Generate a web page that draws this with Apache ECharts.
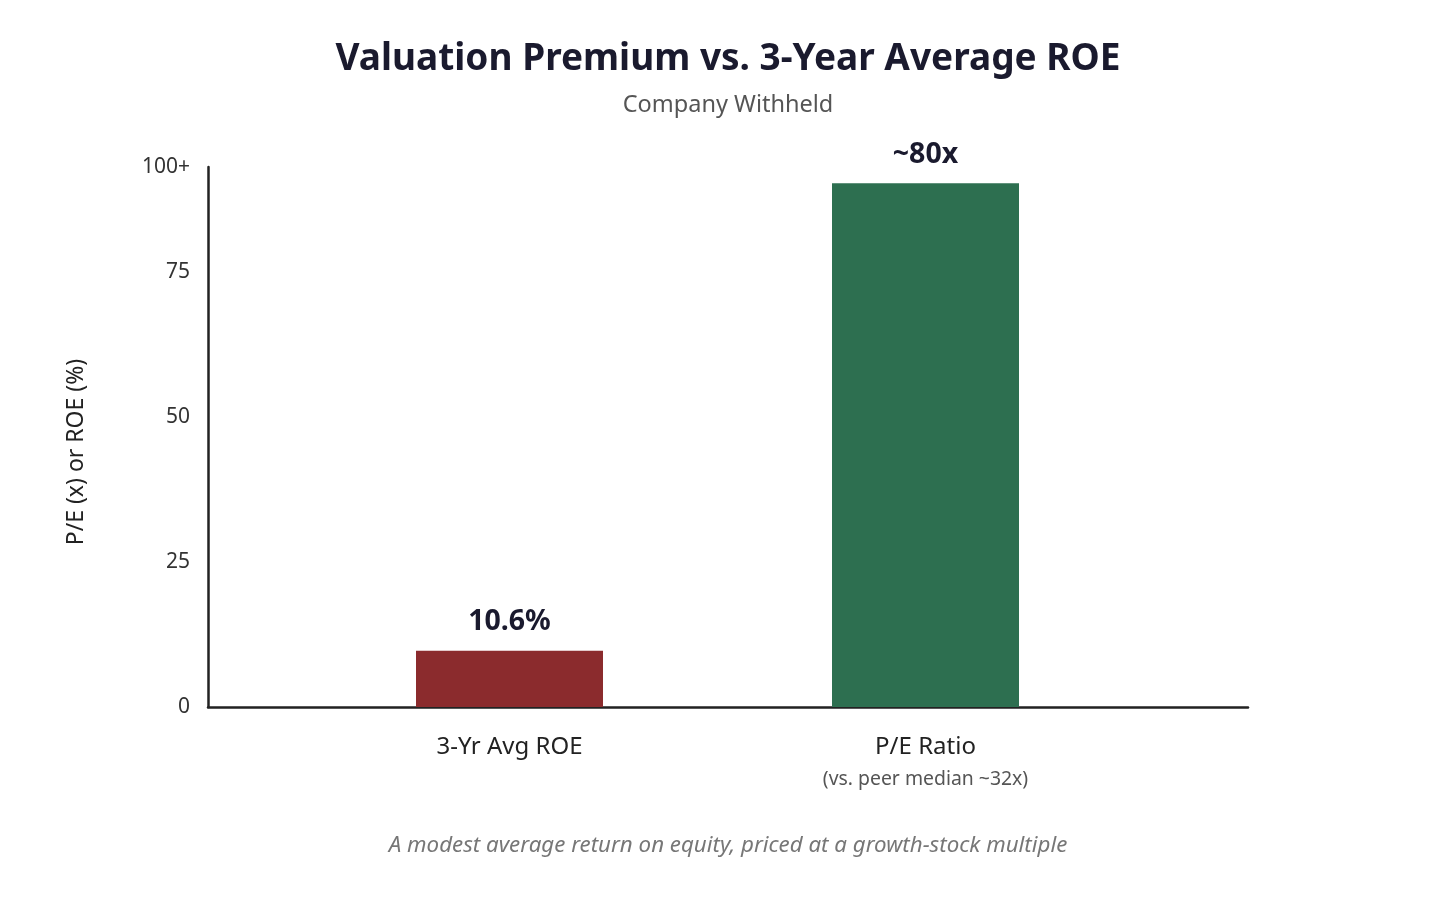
<!DOCTYPE html>
<html>
<head>
<meta charset="utf-8">
<script src="https://cdn.jsdelivr.net/npm/echarts@6/dist/echarts.min.js"></script>
<style>
html,body{margin:0;padding:0;background:#fff;}
#chart{width:1456px;height:915px;}
</style>
</head>
<body>
<div id="chart"></div>
<script>
// ---- data ----
const categories = ['3-Yr Avg ROE', 'P/E Ratio'];
const categoryNotes = ['', '(vs. peer median ~32x)'];
const barValues = [9.7, 90.3];          // drawn bar heights
const barLabels = ['10.6%', '~80x'];     // annotated values
const barColors = ['#8B2B2D', '#2D6F50'];
const yTicks = [0, 25, 50, 75];
const yMax = 93.1;
const yMaxLabel = '100+';

const FONT = 'Noto Sans';
const chart = echarts.init(document.getElementById('chart'));

const option = {
  backgroundColor: '#ffffff',
  animation: false,
  title: [
    {
      text: 'Valuation Premium vs. 3-Year Average ROE',
      left: 'center', top: 36,
      textStyle: { fontFamily: FONT, fontSize: 37, fontWeight: 'bold', color: '#1a1a2e' }
    },
    {
      text: 'Company Withheld',
      left: 'center', top: 88,
      textStyle: { fontFamily: FONT, fontSize: 23.5, fontWeight: 'normal', color: '#555555' }
    },
    {
      text: 'A modest average return on equity, priced at a growth-stock multiple',
      left: 'center', top: 830,
      textStyle: { fontFamily: FONT, fontSize: 22.3, fontWeight: 'normal', fontStyle: 'italic', color: '#777777' }
    }
  ],
  grid: [
    { left: 208, right: 208, top: 167, bottom: 208 },
    { left: 301.5, right: 322.5, top: 167, bottom: 208 }
  ],
  xAxis: [
    {
      type: 'category', gridIndex: 0, data: [''],
      axisLine: { show: true, lineStyle: { color: '#222222', width: 2.5 } },
      axisTick: { show: false }, axisLabel: { show: false }, splitLine: { show: false }
    },
    {
      type: 'category', gridIndex: 1, data: categories,
      axisLine: { show: false }, axisTick: { show: false },
      axisLabel: {
        margin: 23,
        formatter: function (v, i) {
          return categoryNotes[i] ? '{a|' + v + '}\n{b|' + categoryNotes[i] + '}' : '{a|' + v + '}';
        },
        rich: {
          a: { fontFamily: FONT, fontSize: 24, color: '#222222', lineHeight: 34 },
          b: { fontFamily: FONT, fontSize: 19.4, color: '#555555', lineHeight: 30 }
        }
      }
    }
  ],
  yAxis: [
    {
      type: 'value', gridIndex: 0, min: 0, max: yMax, interval: 25,
      name: 'P/E (x) or ROE (%)', nameLocation: 'middle', nameGap: 120, nameRotate: 90,
      nameTextStyle: { fontFamily: FONT, fontSize: 23, color: '#222222', padding: [0, 30, 0, 0] },
      axisLine: { show: true, lineStyle: { color: '#222222', width: 2.5 } },
      axisTick: { show: false },
      splitLine: { show: false },
      axisLabel: {
        margin: 18, fontFamily: FONT, fontSize: 21, color: '#333333',
        formatter: function (v) {
          if (v >= yMax - 0.001) return yMaxLabel;
          return yTicks.indexOf(v) >= 0 ? String(v) : '';
        }
      }
    },
    {
      type: 'value', gridIndex: 1, min: 0, max: yMax, interval: 25, show: false
    }
  ],
  series: [
    {
      type: 'bar', xAxisIndex: 1, yAxisIndex: 1,
      barWidth: 187,
      data: barValues.map(function (v, i) {
        return { value: v, itemStyle: { color: barColors[i] } };
      }),
      label: {
        show: true, position: 'top', distance: 14,
        fontFamily: FONT, fontSize: 28.5, fontWeight: 'bold', color: '#1a1a2e',
        formatter: function (p) { return barLabels[p.dataIndex]; }
      }
    }
  ]
};
chart.setOption(option);
</script>
</body>
</html>
